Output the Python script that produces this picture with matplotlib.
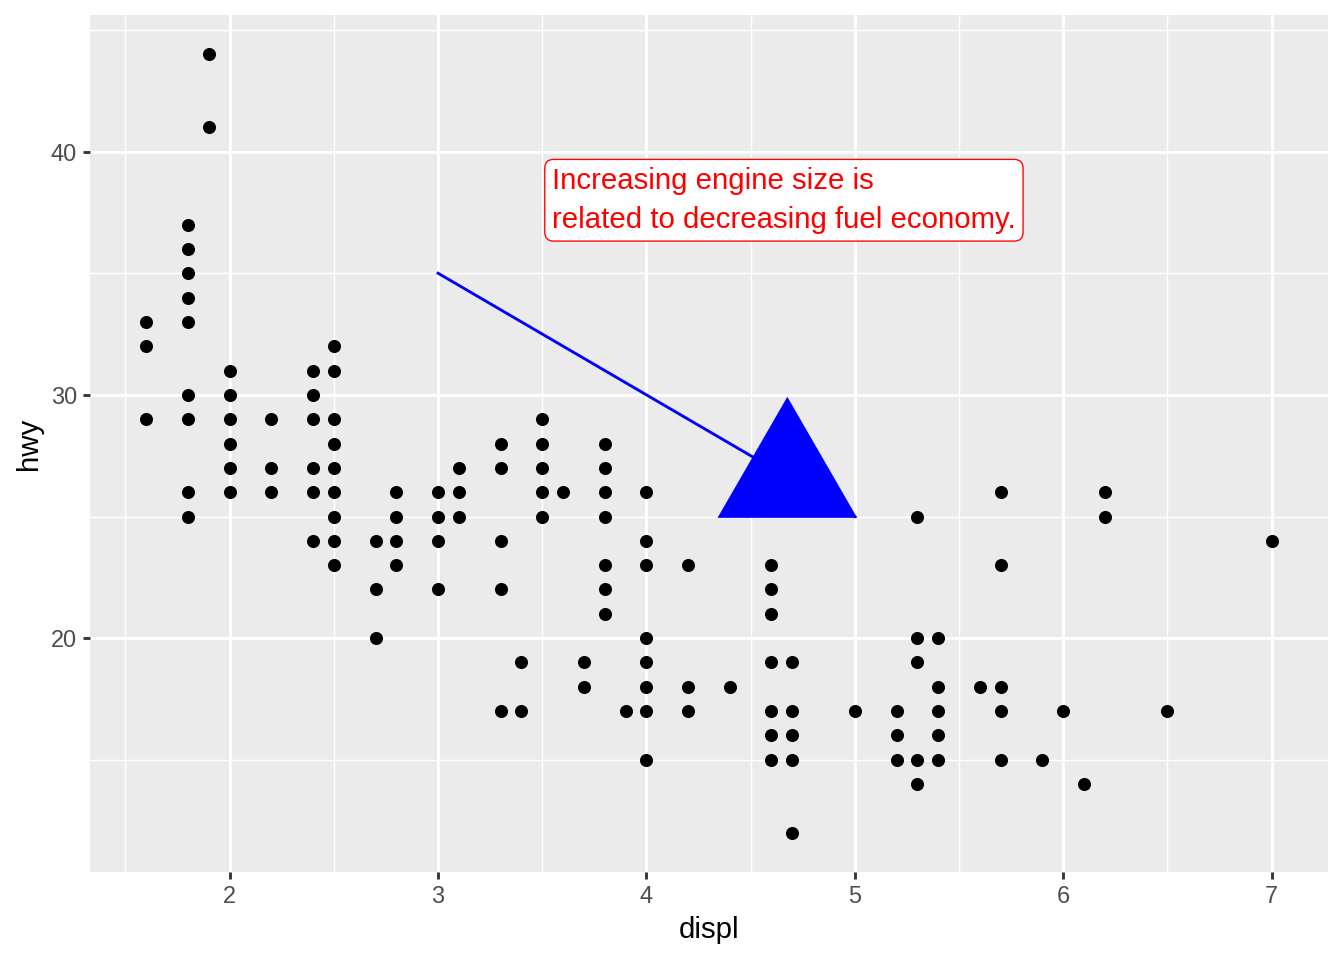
import matplotlib.pyplot as plt
from matplotlib.patches import Polygon
from matplotlib.transforms import IdentityTransform

plt.rcParams['font.family'] = ['Liberation Sans', 'DejaVu Sans']

# unique (displ, hwy) pairs
displ_groups = [1.6, 1.8, 1.9, 2.0, 2.2, 2.4, 2.5, 2.7, 2.8, 3.0, 3.1, 3.3, 3.4, 3.5,
                3.6, 3.7, 3.8, 3.9, 4.0, 4.2, 4.4, 4.6, 4.7, 5.0, 5.2, 5.3, 5.4, 5.6,
                5.7, 5.9, 6.0, 6.1, 6.2, 6.5, 7.0]
hwy_groups = [
    [33, 32, 29],
    [37, 36, 35, 34, 33, 30, 29, 26, 25],
    [44, 41],
    [31, 30, 29, 28, 27, 26],
    [29, 27, 26],
    [31, 30, 29, 27, 26, 24],
    [32, 31, 29, 28, 27, 26, 25, 24, 23],
    [24, 22, 20],
    [26, 25, 24, 23],
    [26, 25, 24, 22],
    [27, 26, 25],
    [28, 27, 24, 22, 17],
    [19, 17],
    [29, 28, 27, 26, 25],
    [26],
    [19, 18],
    [28, 27, 26, 25, 23, 22, 21],
    [17],
    [26, 24, 23, 20, 19, 18, 17, 15],
    [23, 18, 17],
    [18],
    [23, 22, 21, 19, 17, 16, 15],
    [19, 17, 16, 15, 12],
    [17],
    [17, 16, 15],
    [25, 20, 19, 15, 14],
    [20, 18, 17, 16, 15],
    [18],
    [26, 23, 18, 17, 15],
    [15],
    [17],
    [14],
    [26, 25],
    [17],
    [24],
]

x = []
y = []
for d, hs in zip(displ_groups, hwy_groups):
    for h in hs:
        x.append(d)
        y.append(h)

label_text = "Increasing engine size is \nrelated to decreasing fuel economy."
label_x, label_y = 3.5, 38
seg_start = (3, 35)
seg_end = (5, 25)

fig, ax = plt.subplots(figsize=(7, 5), dpi=192)
fig.subplots_adjust(left=0.067, right=0.988, bottom=0.092, top=0.984)

ax.set_facecolor('#EBEBEB')
for s in ax.spines.values():
    s.set_visible(False)

ax.set_xlim(1.33, 7.27)
ax.set_ylim(10.4, 45.6)
ax.set_xticks([2, 3, 4, 5, 6, 7])
ax.set_yticks([20, 30, 40])
ax.set_xticks([1.5, 2.5, 3.5, 4.5, 5.5, 6.5], minor=True)
ax.set_yticks([15, 25, 35, 45], minor=True)
ax.grid(which='major', color='white', linewidth=1.07)
ax.grid(which='minor', color='white', linewidth=0.53)
ax.set_axisbelow(True)
ax.tick_params(which='major', length=2.75, width=1.07, color='#333333',
               labelsize=8.8, labelcolor='#4D4D4D', pad=2.2)
ax.tick_params(which='minor', length=0)

ax.scatter(x, y, s=24, color='black', linewidths=0, zorder=3)

ax.set_xlabel('displ', fontsize=11, labelpad=3)
ax.set_ylabel('hwy', fontsize=11, labelpad=3)

ax.annotate(label_text, xy=(label_x, label_y), xytext=(3.7, 0),
            textcoords='offset points', ha='left', va='center',
            fontsize=11, color='red', linespacing=1.5, zorder=5,
            bbox=dict(boxstyle='round,pad=0.25,rounding_size=0.3',
                      facecolor='white', edgecolor='red', linewidth=0.5))

ax.plot([seg_start[0], seg_end[0]], [seg_start[1], seg_end[1]],
        color='blue', linewidth=1.07, zorder=4)

# big closed arrow head (rendered as a triangle sitting on the end point)
ex, ey = ax.transData.transform(seg_end)
side = 135
tri = Polygon([(ex, ey), (ex - side, ey), (ex - side / 2, ey + 117)],
              closed=True, facecolor='blue', edgecolor='blue',
              transform=IdentityTransform(), zorder=4)
ax.add_artist(tri)

fig.savefig('out.png', dpi=192)
